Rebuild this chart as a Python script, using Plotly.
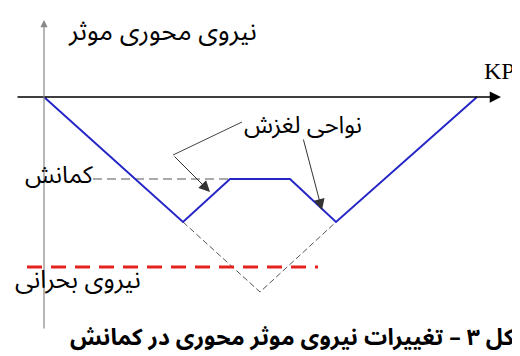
"""
Variation de la force axiale effective le long de la conduite (flambage).
"""

from plotly.graph_objects import Scatter, Figure

#### Données
# force axiale : 0 sur l'axe KP, négative en dessous
blue_x = [44, 183, 230, 290, 336, 477]
blue_y = [0, -125, -82, -82, -125, 0]

# prolongement sans flambage (pointillé gris)
ghost_x = [183, 260, 336]
ghost_y = [-125, -195, -125]

# niveau de flambage
buckle_x = [93, 230]
buckle_y = [-82, -82]

# force critique
crit_x = [27, 318]
crit_y = [-170, -170]

# axes
kp_axis_x = [16, 501]
kp_axis_y = [0, 0]
force_axis_x = [44, 44]
force_axis_y = [-233, 77]

# lignes de rappel "zones de glissement"
leader1_x = [242, 173, 210]
leader1_y = [-25, -58, -95]
leader2_x = [303, 322]
leader2_y = [-41, -113]

# textes
ylabel = "نیروی محوری موثر"
xlabel = "KP"
slip_label = "نواحی لغزش"
buckle_label = "کمانش"
crit_label = "نیروی بحرانی"
caption = "شکل ۳ – تغییرات نیروی موثر محوری در کمانش"

FA = "Noto Sans Arabic, DejaVu Sans"

# la page html a une marge de 8px : on décale le repère
OFF = 8


def arrow(fig, xs, ys, color, width, size):
    # flèche droite de (xs[0], ys[0]) vers (xs[1], ys[1])
    fig.add_annotation(x=xs[1], y=ys[1], ax=xs[0], ay=ys[0],
                       xref="x", yref="y", axref="x", ayref="y",
                       text="", showarrow=True, arrowhead=2,
                       arrowsize=size, arrowwidth=width,
                       arrowcolor=color, standoff=0)


def label(fig, x, y, txt, size, family=FA, bold=False):
    if bold:
        txt = "<b>" + txt + "</b>"
    fig.add_annotation(x=x, y=y, xref="x", yref="y", text=txt,
                       showarrow=False, xanchor="center", yanchor="middle",
                       font={"family": family, "size": size, "color": "black"})


def main():
    fig = Figure()

    fig.add_trace(Scatter(x=ghost_x, y=ghost_y, mode="lines",
                          line={"color": "#555555", "width": 1, "dash": "6px,3px"}))
    fig.add_trace(Scatter(x=buckle_x, y=buckle_y, mode="lines",
                          line={"color": "#555555", "width": 1, "dash": "9px,5px"}))
    fig.add_trace(Scatter(x=crit_x, y=crit_y, mode="lines",
                          line={"color": "#e52222", "width": 3, "dash": "15px,9px"}))
    fig.add_trace(Scatter(x=blue_x, y=blue_y, mode="lines",
                          line={"color": "#2626c8", "width": 2}))
    fig.add_trace(Scatter(x=leader1_x[:2], y=leader1_y[:2], mode="lines",
                          line={"color": "#444444", "width": 1}))

    # axes avec flèches
    arrow(fig, kp_axis_x, kp_axis_y, "black", 1.5, 1.5)
    arrow(fig, force_axis_x, force_axis_y, "#888888", 1.2, 1.2)

    # flèches de rappel
    arrow(fig, leader1_x[1:], leader1_y[1:], "#333333", 1, 2.2)
    arrow(fig, leader2_x, leader2_y, "#333333", 1, 2.2)

    label(fig, 162, 66, ylabel, 26)
    label(fig, 499, 26, xlabel, 24, family="Liberation Serif")
    label(fig, 303, -28, slip_label, 24)
    label(fig, 59, -78, buckle_label, 24)
    label(fig, 78, -183, crit_label, 25)

    # légende de la figure, coupée à droite comme dans l'original
    fig.add_annotation(x=(540 - OFF) / (520 - OFF), y=-240, xref="paper", yref="y",
                       text="<b>" + caption + "</b>", showarrow=False,
                       xanchor="right", yanchor="middle",
                       font={"family": FA, "size": 23, "color": "black"})

    fig.update_layout(
        width=520 - OFF, height=356 - OFF, autosize=False,
        margin={"l": 0, "r": 0, "t": 0, "b": 0},
        paper_bgcolor="white", plot_bgcolor="white",
        showlegend=False,
        xaxis={"range": [OFF, 520], "visible": False, "fixedrange": True},
        yaxis={"range": [-259, 97 - OFF], "visible": False, "fixedrange": True},
    )
    fig.write_html("out.html")


if __name__ == "__main__":
    main()
